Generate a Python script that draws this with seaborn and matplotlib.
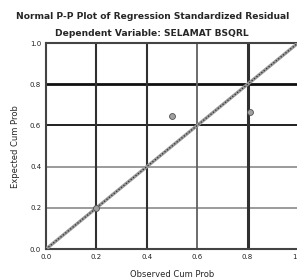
import matplotlib
matplotlib.use('Agg')
import matplotlib.pyplot as plt
import pandas as pd
import seaborn as sns

# P-P plot data
observed = [0.20, 0.50, 0.81]
expected = [0.20, 0.645, 0.665]
diag = [0.0, 1.0]
ticks = [0.0, 0.2, 0.4, 0.6, 0.8, 1.0]
tick_labels = ['0.0', '0.2', '0.4', '0.6', '0.8', '1.0']

sns.set_style('white')
plt.rcParams['font.family'] = ['DejaVu Sans']

fig = plt.figure(figsize=(2.97, 2.78), dpi=100)
ax = fig.add_axes([0.155, 0.104, 0.848, 0.741])

df = pd.DataFrame({'obs': observed, 'exp': expected})
line = pd.DataFrame({'x': diag, 'y': diag})

# grid lines, with the uneven greys of the original
hcols = {0.2: ('#8a8a8a', 1.2), 0.4: ('#8a8a8a', 1.2), 0.6: ('#202020', 1.4), 0.8: ('#101010', 2.0)}
vcols = {0.2: ('#303030', 1.5), 0.4: ('#303030', 1.5), 0.6: ('#606060', 1.3), 0.8: ('#303030', 2.2)}
for v, (c, w) in hcols.items():
    ax.axhline(v, color=c, lw=w, zorder=1)
for v, (c, w) in vcols.items():
    ax.axvline(v, color=c, lw=w, zorder=1)

sns.lineplot(data=line, x='x', y='y', ax=ax, color='#9a9a9a', lw=2.4, zorder=3)
sns.lineplot(data=line, x='x', y='y', ax=ax, color='#303030', lw=0.9, ls=(0, (1, 1.5)), zorder=4)
sns.scatterplot(data=df, x='obs', y='exp', ax=ax, color='#a0a0a0', edgecolor='#505050',
                s=18, linewidth=0.6, zorder=5)

ax.set_xlim(0, 1)
ax.set_ylim(0, 1)
ax.set_xticks(ticks)
ax.set_xticklabels(tick_labels)
ax.set_yticks(ticks)
ax.set_yticklabels(tick_labels)
ax.tick_params(labelsize=5, length=2, width=0.8, pad=1.5, colors='#222222')
for s in ['left', 'bottom', 'top']:
    ax.spines[s].set_color('#444444')
    ax.spines[s].set_linewidth(1.5)
ax.spines['right'].set_visible(False)

ax.set_xlabel('Observed Cum Prob', fontsize=6, labelpad=7)
ax.set_ylabel('Expected Cum Prob', fontsize=6, labelpad=7)

fig.text(0.515, 0.94, 'Normal P-P Plot of Regression Standardized Residual',
         ha='center', va='center', fontsize=6.6, fontweight='bold')
fig.text(0.51, 0.88, 'Dependent Variable: SELAMAT BSQRL',
         ha='center', va='center', fontsize=6.6, fontweight='bold')

fig.savefig('out.png', dpi=100)
